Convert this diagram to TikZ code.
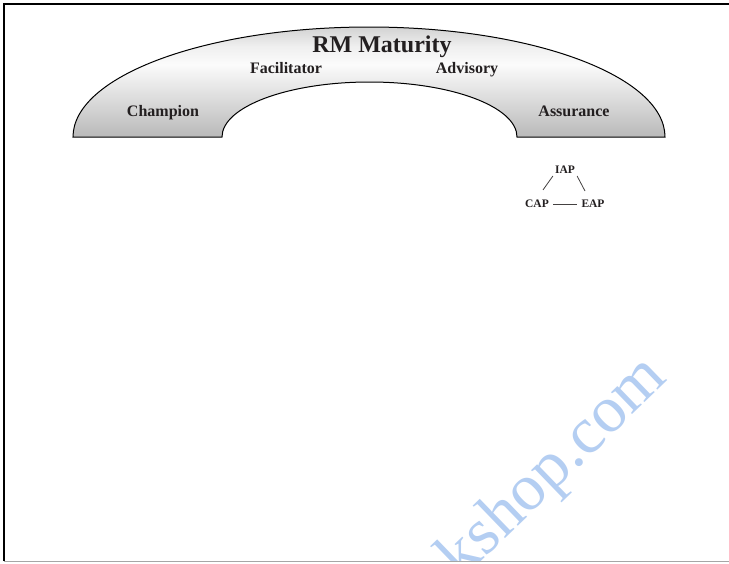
\documentclass[tikz,border=0pt]{standalone}
\usepackage{fontspec}
\setmainfont{Liberation Serif}
\definecolor{ink}{HTML}{231F20}
\definecolor{wmark}{RGB}{180,206,242}
\pgfdeclareverticalshading{archshade}{100bp}{%
  color(0bp)=(gray!55); color(25bp)=(gray!55); color(42bp)=(gray!28);
  color(58bp)=(gray!3); color(66bp)=(gray!12); color(75bp)=(gray!35); color(100bp)=(gray!35)}
\begin{document}
\begin{tikzpicture}[x=1pt,y=-1pt,
  lbl/.style={font=\bfseries\fontsize{16}{18}\selectfont, text=ink, inner sep=0pt, anchor=base},
  sml/.style={font=\bfseries\fontsize{11.5}{13}\selectfont, text=ink, inner sep=2pt},
  link/.style={draw=ink!85, line width=0.8pt}]
\useasboundingbox (0,0) rectangle (729,563);
\fill[white] (0,0) rectangle (729,563);
% frame
\draw[line width=2pt, black] (4,561) -- (4,4) -- (730,4);
\draw[line width=1.5pt, gray!70] (4,561.5) -- (730,561.5);
% arch
\shade[shading=archshade, draw=black, line width=1pt]
  (73,137) arc[start angle=180, end angle=0, x radius=296, y radius=-110]
  -- (517,137) arc[start angle=0, end angle=180, x radius=147.5, y radius=-55]
  -- cycle;
\node[lbl, font=\bfseries\fontsize{24}{26}\selectfont] (title) at (382,52) {RM Maturity};
\node[lbl] (fac) at (286,73) {Facilitator};
\node[lbl] (adv) at (467,73) {Advisory};
\node[lbl] (cha) at (163,116) {Champion};
\node[lbl] (ass) at (574,116) {Assurance};
% triangle
\node[sml] (iap) at (565,170) {IAP};
\node[sml] (cap) at (537,204) {CAP};
\node[sml] (eap) at (593,204) {EAP};
\draw[link] (iap.south west) -- ([xshift=6pt,yshift=8pt]cap.north);
\draw[link] (iap.south east) -- ([xshift=-8pt,yshift=7pt]eap.north);
\draw[link, shorten <=2pt, shorten >=2pt] (cap.east) -- (eap.west);
% watermark
\begin{scope}
\clip (5,5) rectangle (729,560);
\node[rotate=44, anchor=base east, inner sep=0pt, text=wmark,
  font=\fontsize{66}{66}\selectfont] (wm) at (669,380) {ebookshop.com};
\end{scope}
\end{tikzpicture}
\end{document}
